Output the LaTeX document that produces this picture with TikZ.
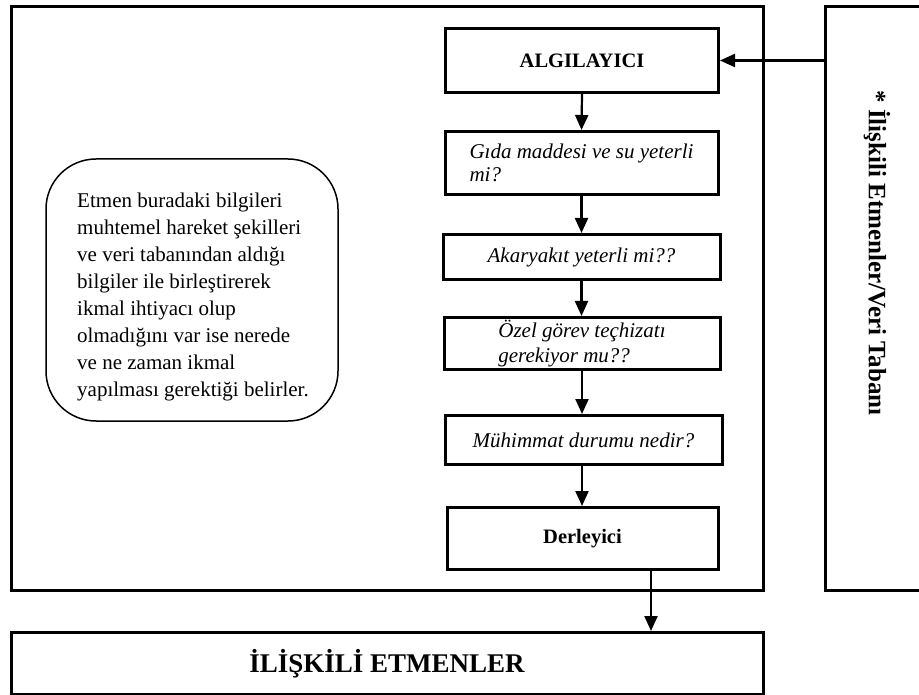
\documentclass[tikz,border=0pt]{standalone}
\usepackage{fontspec}
\setmainfont{Liberation Serif}
\usetikzlibrary{arrows.meta,positioning}
\begin{document}
\begin{tikzpicture}[x=1pt,y=-1pt,
  frame/.style={draw,line width=3pt,inner sep=0pt,anchor=north west},
  stepbox/.style={draw,line width=3pt,inner sep=0pt,minimum width=273pt,anchor=north},
  note/.style={draw,line width=1.5pt,rounded corners=50pt,inner sep=0pt,
    minimum width=292pt,minimum height=262pt},
  arr/.style={line width=2.2pt,-{Triangle[length=15pt,width=13pt]}},
  qtext/.style={font=\fontsize{21}{23}\selectfont\itshape},
  btext/.style={font=\fontsize{20.5}{24}\selectfont\bfseries}]
\useasboundingbox (0,0) rectangle (919,695);

% outer frames
\node[frame,minimum width=752pt,minimum height=583.5pt] (main) at (9.5,5) {};
\node[frame,minimum width=120pt,minimum height=583.5pt] (side) at (824,5) {};
\node[frame,minimum width=752pt,minimum height=61.5pt,
  font=\fontsize{27}{30}\selectfont\bfseries] (rel) at (9.5,631) {İLİŞKİLİ ETMENLER};

% label of the side panel
\node[rotate=-90,font=\fontsize{25}{28}\selectfont\bfseries,inner sep=0pt]
  (sidelbl) at (877,253) {* İlişkili Etmenler/Veri Tabanı};

% flow of checks
\node[stepbox,btext,minimum height=64pt] (alg) at (582,27) {ALGILAYICI};
\node[stepbox,qtext,minimum height=63pt,align=left] (food) at (581.5,130)
  {Gıda maddesi ve su yeterli\\mi?};
\node[stepbox,qtext,minimum height=45pt,minimum width=277pt] (fuel) at (581.5,233)
  {Akaryakıt yeterli mi??};
\node[stepbox,minimum height=52pt,minimum width=276pt,align=left,
  font=\fontsize{21}{25}\selectfont\itshape] (gear) at (582,316)
  {Özel görev teçhizatı\\gerekiyor mu??};
\node[stepbox,qtext,minimum height=49pt,minimum width=277pt] (ammo) at (583.5,414)
  {Mühimmat durumu nedir?};
\node[stepbox,btext,minimum height=62pt,minimum width=271pt] (comp) at (582.5,506)
  {Derleyici};

% explanatory note: frame and its text
\node[note] (info) at (192,290) {};
\node[align=left,inner sep=0pt,font=\fontsize{21}{27}\selectfont] (infotext) at (193,297)
  {Etmen buradaki bilgileri\\
   muhtemel hareket şekilleri\\
   ve veri tabanından aldığı\\
   bilgiler ile birleştirerek\\
   ikmal ihtiyacı olup\\
   olmadığını var ise nerede\\
   ve ne zaman ikmal\\
   yapılması gerektiği belirler.};

% connectors
\draw[arr] (alg.east -| side.west) -- (alg.east);
\draw[arr] (alg.south) -- (food.north);
\draw[arr] (food.south) -- (fuel.north -| food.south);
\draw[arr] (fuel.south) -- (gear.north -| fuel.south);
\draw[arr] (gear.south) -- (ammo.north -| gear.south);
\draw[arr] (ammo.south -| gear.south) -- (comp.north -| gear.south);
\coordinate (tap) at (651,568);
\draw[arr] (tap) -- (tap |- rel.north);
\end{tikzpicture}
\end{document}
